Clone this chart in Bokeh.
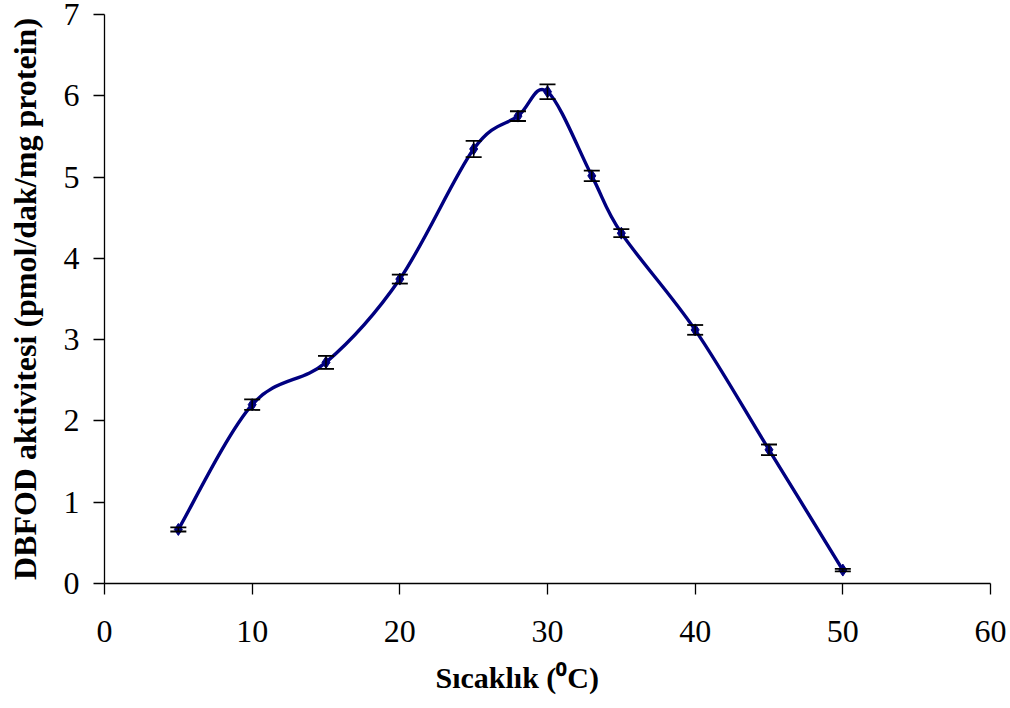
import numpy as np
from bokeh.plotting import figure
from bokeh.models import Range1d, Whisker, TeeHead, ColumnDataSource, FixedTicker, Title
from bokeh.embed import file_html
from bokeh.resources import INLINE

# Temperature (°C) vs. DBFOD activity (pmol/dak/mg protein) with standard errors
temps = [5, 10, 15, 20, 25, 28, 30, 33, 35, 40, 45, 50]
activity = [0.665, 2.20, 2.72, 3.745, 5.345, 5.75, 6.05, 5.015, 4.31, 3.12, 1.645, 0.165]
errors = [0.025, 0.065, 0.08, 0.055, 0.10, 0.06, 0.09, 0.065, 0.05, 0.06, 0.065, 0.015]

x_ticks = [0, 10, 20, 30, 40, 50, 60]
y_ticks = [0, 1, 2, 3, 4, 5, 6, 7]

NAVY = "#000080"
SERIF = "Liberation Serif"

p = figure(width=1010, height=708, output_backend="svg", toolbar_location=None,
           x_range=Range1d(0, 60), y_range=Range1d(0, 7),
           min_border_left=104, min_border_right=20, min_border_top=14, min_border_bottom=125)
p.outline_line_color = None
p.xgrid.visible = False
p.ygrid.visible = False
p.background_fill_color = "white"
p.border_fill_color = "white"

for ax, ticks in ((p.xaxis[0], x_ticks), (p.yaxis[0], y_ticks)):
    ax.ticker = FixedTicker(ticks=ticks)
    ax.minor_tick_line_color = None
    ax.major_tick_in = 0
    ax.major_tick_out = 11
    ax.axis_line_color = "black"
    ax.major_tick_line_color = "black"
    ax.axis_line_width = 1.3
    ax.major_tick_line_width = 1.3
    ax.major_label_text_font = SERIF
    ax.major_label_text_font_size = "32px"
    ax.major_label_text_color = "black"

p.xaxis.major_label_standoff = 26
p.yaxis.major_label_standoff = 14

p.yaxis.axis_label = "DBFOD aktivitesi (pmol/dak/mg protein)"
p.yaxis.axis_label_text_font = SERIF
p.yaxis.axis_label_text_font_style = "bold"
p.yaxis.axis_label_text_color = "black"
p.yaxis.axis_label_text_font_size = "32px"
p.yaxis.axis_label_standoff = 18

# x title, left-aligned so that it sits a little left of the frame centre
p.add_layout(Title(text="Sıcaklık (⁰C)", align="left", offset=331, standoff=28,
                   text_font=SERIF, text_font_style="bold", text_font_size="30px",
                   text_color="black"), "below")

# Smoothed curve: Catmull-Rom style cubic Bezier through the measured points
xs = np.array(temps, dtype=float)
ys = np.array(activity, dtype=float)
xp = np.concatenate([[xs[0]], xs, [xs[-1]]])
yp = np.concatenate([[ys[0]], ys, [ys[-1]]])
n = len(xs)
cx0 = xs[:-1] + (xp[2:n + 1] - xp[0:n - 1]) / 6.0
cy0 = ys[:-1] + (yp[2:n + 1] - yp[0:n - 1]) / 6.0
cx1 = xs[1:] - (xp[3:n + 2] - xp[1:n]) / 6.0
cy1 = ys[1:] - (yp[3:n + 2] - yp[1:n]) / 6.0
p.bezier(x0=xs[:-1], y0=ys[:-1], x1=xs[1:], y1=ys[1:],
         cx0=cx0, cy0=cy0, cx1=cx1, cy1=cy1, line_color=NAVY, line_width=3.4)

src = ColumnDataSource(dict(
    x=temps, y=activity,
    lo=[a - e for a, e in zip(activity, errors)],
    hi=[a + e for a, e in zip(activity, errors)],
))
p.scatter("x", "y", source=src, marker="diamond", size=12, color=NAVY)

wh = Whisker(base="x", lower="lo", upper="hi", source=src, line_color="black", line_width=1.5,
             upper_head=TeeHead(size=16, line_color="black", line_width=1.8),
             lower_head=TeeHead(size=16, line_color="black", line_width=1.8))
wh.level = "overlay"
p.add_layout(wh)

open("out.html", "w").write(file_html(p, INLINE))
